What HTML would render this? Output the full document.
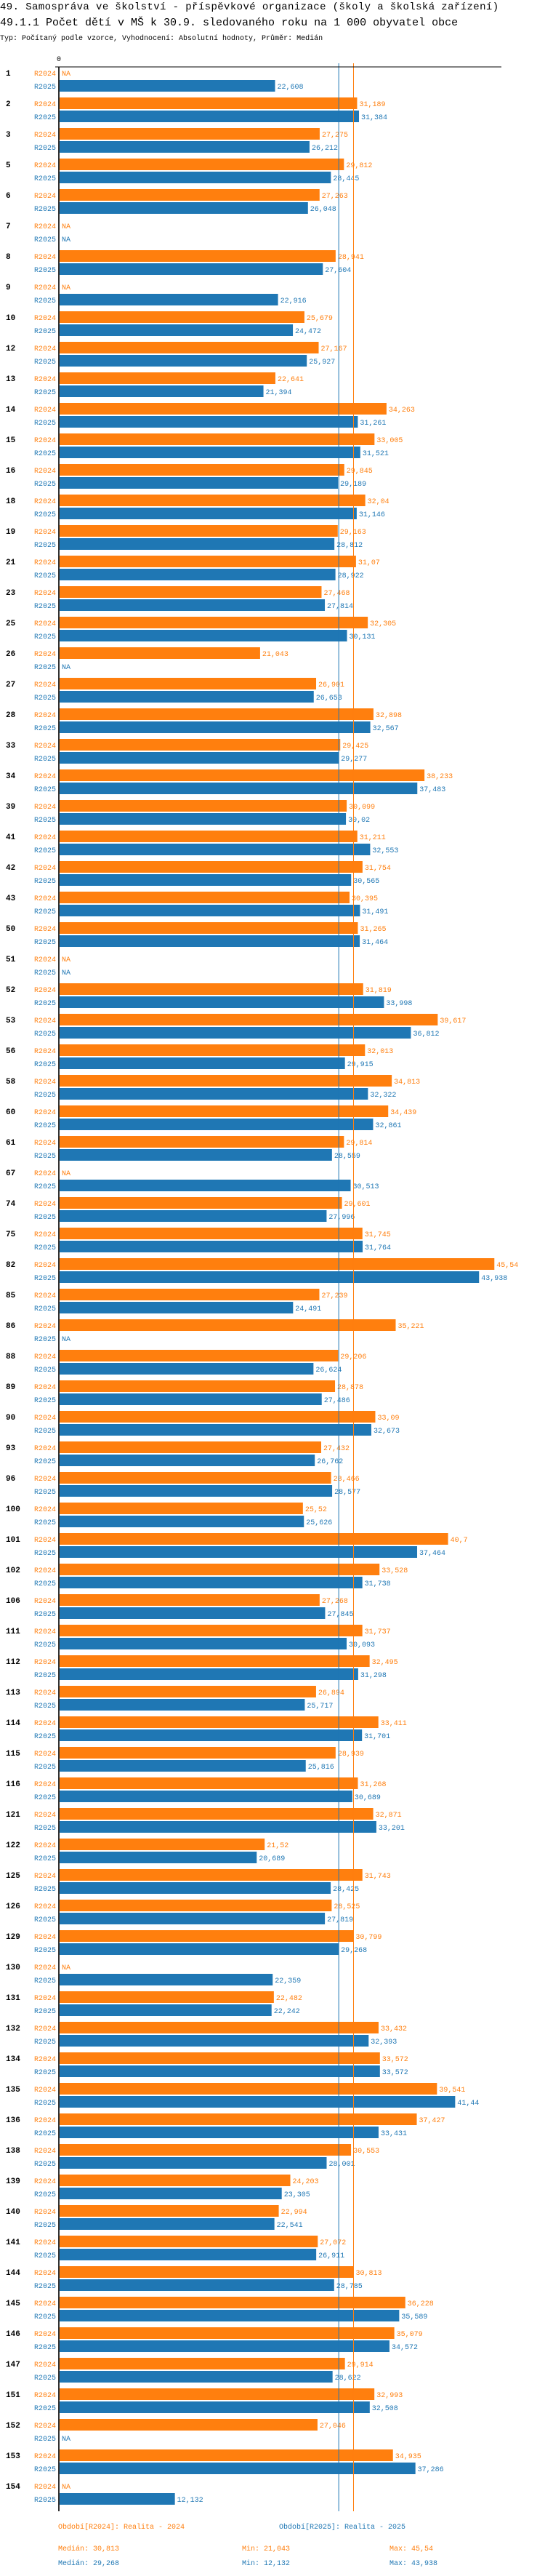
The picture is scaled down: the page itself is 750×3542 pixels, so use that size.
<!DOCTYPE html>
<html><head><meta charset="utf-8"><style>
html,body{margin:0;padding:0;background:#fff;}
svg{display:block;font-family:"Liberation Mono",monospace;}
</style></head><body>
<svg id="chart" width="750" height="3542" viewBox="0 0 750 3542">
<text x="0" y="13" font-size="14" letter-spacing="0.4" fill="#000">49. Samospráva ve školství - příspěvkové organizace (školy a školská zařízení)</text>
<text x="0" y="35" font-size="15" letter-spacing="0" fill="#000">49.1.1 Počet dětí v MŠ k 30.9. sledovaného roku na 1 000 obyvatel obce</text>
<text x="0" y="55" font-size="10" fill="#000">Typ: Počítaný podle vzorce, Vyhodnocení: Absolutní hodnoty, Průměr: Medián</text>
<text x="81" y="84" font-size="10" text-anchor="middle" fill="#000">0</text>
<g id="marks"></g>
<line x1="76" y1="92" x2="690" y2="92" stroke="#000" stroke-width="1"/>
<line x1="81" y1="92" x2="81" y2="3453" stroke="#000" stroke-width="1.6"/>
<g font-size="10">
<text x="80" y="3477" fill="#ff7f0e">Období[R2024]: Realita - 2024</text>
<text x="384" y="3477" fill="#1f77b4">Období[R2025]: Realita - 2025</text>
<text x="80" y="3507" fill="#ff7f0e">Medián: 30,813</text>
<text x="333" y="3507" fill="#ff7f0e">Min: 21,043</text>
<text x="536" y="3507" fill="#ff7f0e">Max: 45,54</text>
<text x="80" y="3527" fill="#1f77b4">Medián: 29,268</text>
<text x="333" y="3527" fill="#1f77b4">Min: 12,132</text>
<text x="536" y="3527" fill="#1f77b4">Max: 43,938</text>
</g>
</svg>
<script>
const categories = [1,2,3,5,6,7,8,9,10,12,13,14,15,16,18,19,21,23,25,26,27,28,33,34,39,41,42,43,50,51,52,53,56,58,60,61,67,74,75,82,85,86,88,89,90,93,96,100,101,102,106,111,112,113,114,115,116,121,122,125,126,129,130,131,132,134,135,136,138,139,140,141,144,145,146,147,151,152,153,154];
const values2024 = [null,31.189,27.275,29.812,27.263,null,28.941,null,25.679,27.167,22.641,34.263,33.005,29.845,32.04,29.163,31.07,27.468,32.305,21.043,26.901,32.898,29.425,38.233,30.099,31.211,31.754,30.395,31.265,null,31.819,39.617,32.013,34.813,34.439,29.814,null,29.601,31.745,45.54,27.239,35.221,29.206,28.878,33.09,27.432,28.466,25.52,40.7,33.528,27.268,31.737,32.495,26.894,33.411,28.939,31.268,32.871,21.52,31.743,28.525,30.799,null,22.482,33.432,33.572,39.541,37.427,30.553,24.203,22.994,27.072,30.813,36.228,35.079,29.914,32.993,27.046,34.935,null];
const values2025 = [22.608,31.384,26.212,28.445,26.048,null,27.604,22.916,24.472,25.927,21.394,31.261,31.521,29.189,31.146,28.812,28.922,27.814,30.131,null,26.653,32.567,29.277,37.483,30.02,32.553,30.565,31.491,31.464,null,33.998,36.812,29.915,32.322,32.861,28.559,30.513,27.996,31.764,43.938,24.491,null,26.624,27.486,32.673,26.762,28.577,25.626,37.464,31.738,27.845,30.093,31.298,25.717,31.701,25.816,30.689,33.201,20.689,28.425,27.819,29.268,22.359,22.242,32.393,33.572,41.44,33.431,28.001,23.305,22.541,26.911,28.785,35.589,34.572,28.622,32.508,null,37.286,12.132];
const seriesNames = ["R2024","R2025"];
const medians = [30.813, 29.268];

const NS = "http://www.w3.org/2000/svg";
const X0 = 81, SCALE = 13.16, TOP = 92, PITCH = 42, BAR_H = 16, GAP = 18;
const colors = ["#ff7f0e","#1f77b4"];
const xScale = v => X0 + v * SCALE;
const yCat = i => TOP + i * PITCH;
const fmt = v => String(v).replace(".", ",");
const g = document.getElementById("marks");
function mk(tag, attrs){const e=document.createElementNS(NS,tag);for(const k in attrs)e.setAttribute(k,attrs[k]);g.appendChild(e);return e;}

categories.forEach((c, i) => {
  const top = yCat(i);
  const lab = mk("text",{x:8,y:top+12,"font-size":11,"font-weight":"bold",fill:"#000"});
  lab.textContent = c;
  
  
  [values2024, values2025].forEach((arr, s) => {
    const y = top + s * GAP;
    const sl = mk("text",{x:77,y:y+12,"font-size":10,"text-anchor":"end",fill:colors[s]});
    sl.textContent = seriesNames[s];
    
    
    const v = arr[i];
    let endX = X0 + 1;
    if (v !== null) {
      const r = mk("rect",{x:X0+1,y:y,width:Math.max(0,xScale(v)-X0-1),height:BAR_H,fill:colors[s]});
      
      
      endX = xScale(v);
    }
    const vl = mk("text",{x:endX+3,y:y+12,"font-size":10,fill:colors[s]});
    vl.textContent = v === null ? "NA" : fmt(v);
    
    
  });
});
medians.forEach((m, s) => {
  const l = mk("line",{x1:xScale(m),x2:xScale(m),y1:87,y2:3453,stroke:colors[s],"stroke-width":1});
  
  
});
</script>
</body></html>
